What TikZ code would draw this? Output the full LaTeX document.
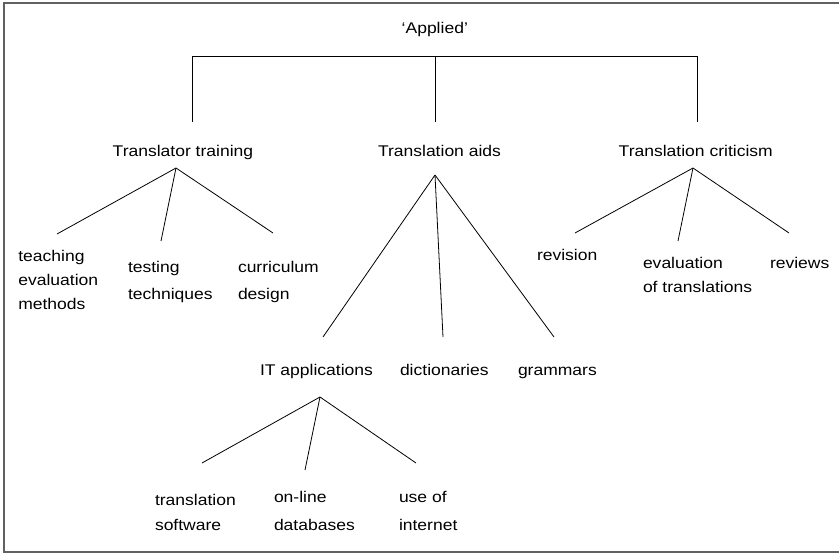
\documentclass[tikz,border=0pt]{standalone}
\usepackage{fontspec}
\setmainfont{Liberation Sans}[FakeStretch=1.13]
\begin{document}
\begin{tikzpicture}[x=1pt,y=-1pt,
  lbl/.style={anchor=base west, inner sep=0pt, outer sep=0pt, font=\fontsize{15.5}{24}\selectfont},
  wide/.style={font=\fontsize{15.5}{27.5}\selectfont},
  edge/.style={draw=black, line width=0.8pt},
  frame/.style={draw=black!62, line width=1.6pt}]
\useasboundingbox (0,0) rectangle (839,554);
\draw[frame] (839,3) -- (4,3) -- (4,552) -- (839,552);

% nodes
\node[lbl] (root) at (401.7,33) {`Applied'};
\node[lbl] (tt) at (112.7,156) {Translator training};
\node[lbl] (ta) at (378,156) {Translation aids};
\node[lbl] (tc) at (618.7,156) {Translation criticism};

\node[lbl] (teach) at (18.3,261) {\begin{tabular}[t]{@{}l@{}}teaching\\evaluation\\methods\end{tabular}};
\node[lbl,wide] (test) at (128,272) {\begin{tabular}[t]{@{}l@{}}testing\\techniques\end{tabular}};
\node[lbl,wide] (curr) at (238,272) {\begin{tabular}[t]{@{}l@{}}curriculum\\design\end{tabular}};

\node[lbl] (rev) at (537,260) {revision};
\node[lbl] (evt) at (643,268) {\begin{tabular}[t]{@{}l@{}}evaluation\\of translations\end{tabular}};
\node[lbl] (revw) at (770,268) {reviews};

\node[lbl] (it) at (260,375) {IT applications};
\node[lbl] (dict) at (400,375) {dictionaries};
\node[lbl] (gram) at (518,375) {grammars};

\node[lbl,font=\fontsize{15.5}{25.5}\selectfont] (tsw) at (155,505) {\begin{tabular}[t]{@{}l@{}}translation\\software\end{tabular}};
\node[lbl,wide] (odb) at (274,502.5) {\begin{tabular}[t]{@{}l@{}}on-line\\databases\end{tabular}};
\node[lbl,wide] (uoi) at (399,502.5) {\begin{tabular}[t]{@{}l@{}}use of\\internet\end{tabular}};

% connector coordinates
\coordinate (barL) at (192,56);
\coordinate (barM) at (435,56);
\coordinate (barR) at (697,56);
\coordinate (ttTop) at (192,122);
\coordinate (taTop) at (435,122);
\coordinate (tcTop) at (697,122);

\coordinate (ttA) at (176,168);
\coordinate (teachE) at (57,234);
\coordinate (testE) at (161,241);
\coordinate (currE) at (273,233);

\coordinate (taA) at (435,175);
\coordinate (itE) at (323,337);
\coordinate (dictE) at (443,337);
\coordinate (gramE) at (554,337);

\coordinate (tcA) at (693,168);
\coordinate (revE) at (575,233);
\coordinate (evtE) at (678,241);
\coordinate (revwE) at (789,233);

\coordinate (itA) at (320,397);
\coordinate (tswE) at (202,463);
\coordinate (odbE) at (305,470);
\coordinate (uoiE) at (416,463);

% connectors
\draw[edge] (barL) -- (barR);
\draw[edge] (barL) -- (ttTop);
\draw[edge] (barM) -- (taTop);
\draw[edge] (barR) -- (tcTop);

\draw[edge] (ttA) -- (teachE);
\draw[edge] (ttA) -- (testE);
\draw[edge] (ttA) -- (currE);

\draw[edge] (taA) -- (itE);
\draw[edge] (taA) -- (dictE);
\draw[edge] (taA) -- (gramE);

\draw[edge] (tcA) -- (revE);
\draw[edge] (tcA) -- (evtE);
\draw[edge] (tcA) -- (revwE);

\draw[edge] (itA) -- (tswE);
\draw[edge] (itA) -- (odbE);
\draw[edge] (itA) -- (uoiE);
\end{tikzpicture}
\end{document}
